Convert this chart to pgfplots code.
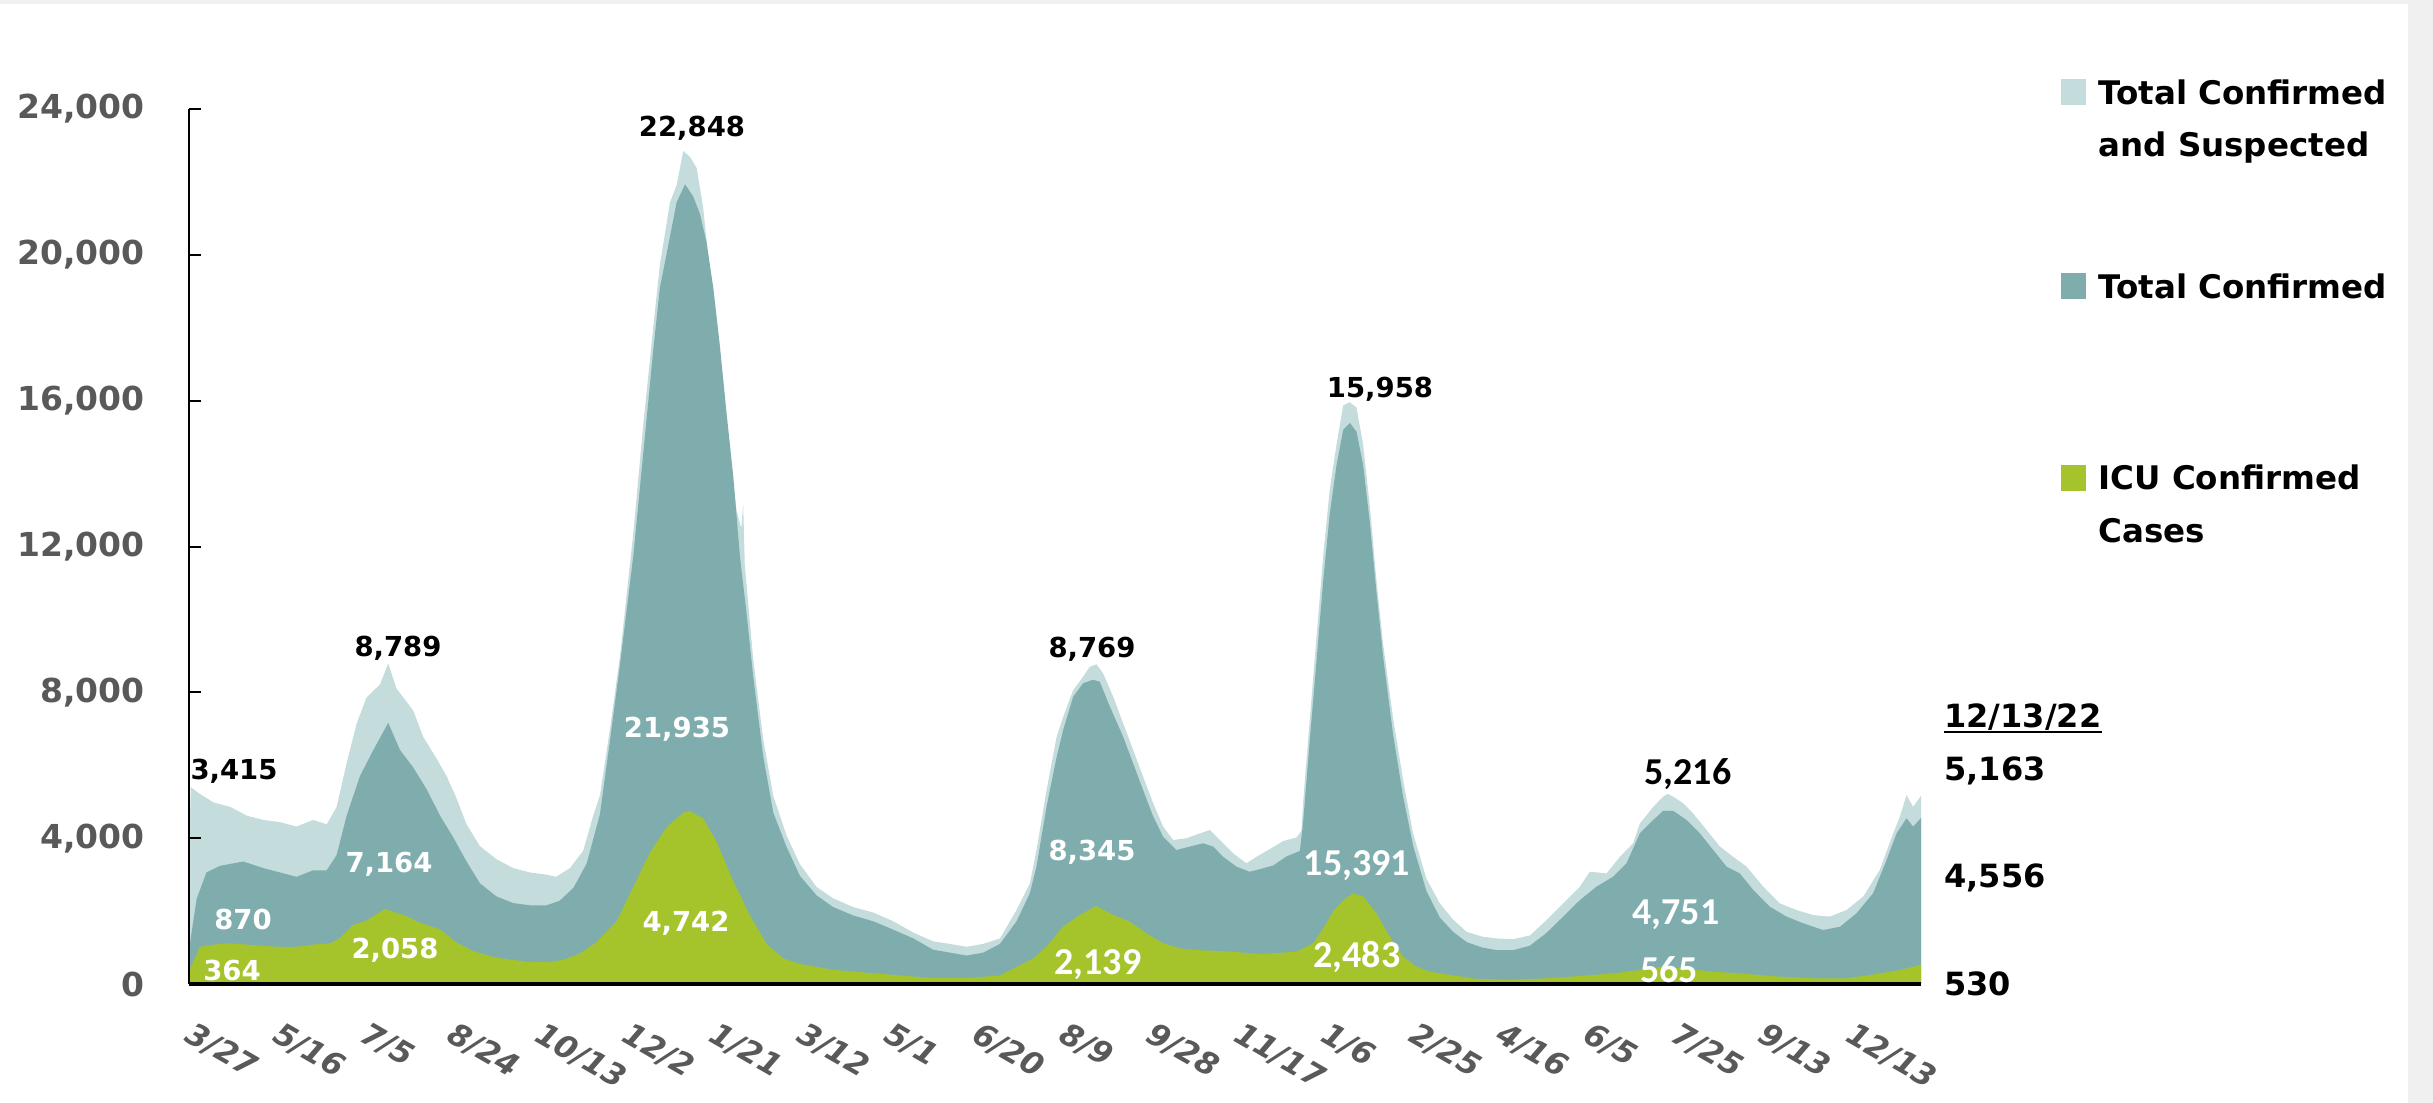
\documentclass[border=0pt]{standalone}
\usepackage{pgfplots}
\pgfplotsset{compat=1.18}
\usepackage{fontspec}
\setmainfont{DejaVu Sans}
\newfontfamily\calib{Carlito}
\definecolor{lightc}{HTML}{C5DCDC}
\definecolor{tealc}{HTML}{7FADAE}
\definecolor{greenc}{HTML}{A5C42B}
\definecolor{tickgray}{HTML}{595959}
\definecolor{bggray}{HTML}{F0F0F0}
\begin{document}
\begin{tikzpicture}
\begin{scope}[x=0.5pt,y=-0.5pt]
\path[use as bounding box] (0,0) rectangle (2433,1103);
\fill[bggray] (0,0) rectangle (2433,4);
\fill[bggray] (2408,0) rectangle (2433,1103);
\end{scope}
\begin{axis}[at={(94.5pt,-492pt)}, anchor=south west, scale only axis,
  width=866pt, height=437.5pt,
  xmin=0, xmax=991, ymin=0, ymax=24000,
  axis on top,
  scaled y ticks=false,
  axis x line=bottom, axis y line=left,
  x axis line style={-, line width=2pt, black},
  y axis line style={-, line width=1pt, black},
  xtick={0,50,...,950},
  xticklabels={3/27,5/16,7/5,8/24,10/13,12/2,1/21,3/12,5/1,6/20,8/9,9/28,11/17,1/6,2/25,4/16,6/5,7/25,9/13,12/13},
  major x tick style={draw=none},
  ytick={0,4000,...,24000},
  yticklabels={0,{4,000},{8,000},{12,000},{16,000},{20,000},{24,000}},
  tick align=inside,
  major tick length=6pt,
  y tick style={line width=1pt, black},
  yticklabel style={font=\fontsize{16.5}{18}\selectfont\bfseries, text=tickgray, anchor=east, inner sep=0pt, xshift=-22pt},
  xticklabel style={font=\fontsize{15.5}{17}\selectfont\bfseries\itshape, text=tickgray, xshift=3pt, yshift=-18pt, rotate=-30, anchor=north west, inner sep=0pt},
]
% Total Confirmed and Suspected
\addplot[fill=lightc, draw=none] coordinates {
(0,3415)(1,5400)(6,5220)(14,4980)(23.5,4860)(33,4620)(42.5,4500)(52,4440)(61.6,4320)(71,4500)(78.8,4380)(84.5,4860)(90.2,6060)(95.9,7140)(101.6,7860)(109.3,8220)(114,8789)(118.8,8100)(124.5,7740)(128.3,7500)(134,6780)(141.7,6180)(147.4,5700)(153,5100)(158.8,4380)(166.5,3780)(176,3420)(185.5,3180)(195,3060)(204.6,3000)(210,2940)(218,3180)(225.6,3660)(231.3,4620)(235.1,5165)(241,7040)(246.6,9000)(254.2,12360)(259.9,15340)(265.6,18000)(269.4,19720)(275.2,21440)(279,21910)(282.8,22848)(286.6,22690)(290.5,22380)(294.2,21280)(298,19560)(301.8,18000)(305.7,16120)(309.5,14550)(313.3,12990)(316,12500)(317.1,13150)(318,11500)(319,10955)(322.8,8920)(328.5,6730)(334.3,5165)(341.9,4070)(349.5,3290)(359.1,2660)(368.6,2350)(380,2110)(391.5,1960)(403,1720)(414.4,1410)(425.8,1170)(435.4,1100)(444.9,1020)(454.4,1100)(464,1250)(473.5,2030)(481.1,2760)(484.9,3675)(490.6,5300)(496.4,6780)(500.2,7330)(505.9,8060)(511.6,8430)(515.4,8700)(519.2,8769)(523,8520)(528.8,7880)(534.5,7150)(540.2,6420)(545.9,5690)(551.7,4955)(557.4,4315)(563.1,3950)(570.7,4000)(578.4,4130)(584.1,4225)(589.8,3950)(597.4,3585)(605,3310)(610.8,3490)(618.4,3700)(626,3920)(633.7,4020)(636.5,4200)(637.5,5020)(641.3,7270)(645.1,9520)(649,11770)(652.7,13570)(656.6,14800)(660.4,15870)(664.2,15958)(668,15810)(671.8,14800)(675.6,13120)(679.4,11090)(683.3,9300)(689,7270)(694.7,5590)(700.4,4125)(708,2890)(715.7,2210)(723.3,1765)(731,1430)(740,1300)(748.1,1250)(757.7,1230)(767.2,1330)(776.7,1750)(786.3,2210)(795.8,2670)(801.5,3080)(811.1,3035)(818.7,3490)(826.3,3860)(830.1,4400)(837.8,4860)(843.5,5140)(846,5216)(849.2,5140)(855,4955)(860.6,4680)(868.3,4225)(875.9,3770)(883.5,3490)(891.2,3220)(900.7,2670)(910.2,2210)(919.8,2030)(929.3,1890)(938.9,1850)(948.4,2030)(957.9,2395)(967.4,3130)(975.1,4130)(978.9,4590)(982.7,5180)(986.5,4860)(991,5163)
} \closedcycle;
% Total Confirmed
\addplot[fill=tealc, draw=none] coordinates {
(0,870)(1,1260)(4.4,2340)(10,3060)(17.7,3240)(31,3360)(42.5,3180)(52,3060)(61.6,2940)(71,3120)(78.8,3120)(84.5,3540)(90.2,4620)(97.8,5700)(105.5,6420)(114,7164)(120.7,6420)(128.3,5940)(136,5340)(143.6,4620)(151.2,4020)(158.8,3360)(166.5,2760)(176,2400)(185.5,2220)(195,2160)(204.6,2160)(212,2280)(220,2640)(227.5,3300)(235.1,4650)(241,6730)(246.6,8760)(254.2,11740)(259.9,14550)(265.6,17370)(269.4,19090)(275.2,20500)(279,21440)(283.8,21935)(288.5,21600)(292.3,21130)(296.1,20350)(300,19090)(303.7,17530)(307.6,15650)(311.4,13930)(315.2,11740)(319,10170)(322.8,8450)(328.5,6260)(334.3,4700)(341.9,3760)(349.5,2970)(359.1,2430)(368.6,2110)(380,1880)(391.5,1720)(403,1490)(414.4,1250)(425.8,940)(435.4,860)(444.9,780)(454.4,860)(464,1100)(473.5,1720)(481.1,2490)(484.9,3220)(490.6,4850)(496.4,6220)(500.2,6970)(505.9,7880)(511.6,8250)(517.3,8345)(521.1,8290)(526.9,7610)(534.5,6780)(540.2,6050)(545.9,5320)(551.7,4590)(557.4,4040)(565,3675)(572.6,3770)(580.3,3860)(586,3770)(591.7,3490)(599.3,3220)(606.9,3080)(612.7,3150)(620.3,3250)(628,3500)(635.6,3650)(637.5,4460)(641.3,6710)(645.1,8850)(649,11090)(652.7,12900)(656.6,14240)(660.4,15200)(664.2,15391)(668,15150)(671.8,14240)(675.6,12670)(679.4,10760)(683.3,8960)(689,6820)(694.7,5140)(700.4,3790)(708,2550)(715.7,1820)(723.3,1430)(731,1150)(740,1000)(748.1,930)(757.7,930)(767.2,1050)(776.7,1400)(786.3,1850)(795.8,2300)(805.3,2670)(814.9,2945)(822.5,3310)(830.1,4130)(837.8,4500)(843.5,4751)(849.2,4751)(856.8,4500)(864.5,4130)(872.1,3675)(879.7,3220)(887.3,3035)(895,2580)(904.5,2120)(914,1850)(923.6,1665)(935,1480)(944.6,1570)(954.1,1940)(963.6,2490)(971.3,3400)(977,4130)(982.7,4545)(986.5,4315)(991,4556)
} \closedcycle;
% ICU Confirmed
\addplot[fill=greenc, draw=none] coordinates {
(0,364)(0.6,420)(6.3,1020)(13.9,1080)(23.5,1116)(33,1080)(42.5,1044)(52,1020)(61.6,1020)(71,1080)(80.7,1116)(86.4,1260)(94,1620)(101.6,1740)(112,2058)(124.5,1860)(132,1680)(143.6,1500)(153,1140)(162.6,900)(176,720)(185.5,660)(195,600)(204.6,600)(214,660)(223.7,840)(233,1140)(244.7,1720)(254.2,2660)(263.7,3600)(273.3,4300)(282.8,4700)(286.6,4742)(294.2,4540)(301.8,3910)(311.4,2820)(320.9,1880)(330.5,1100)(340,700)(349.5,550)(368.6,390)(387.7,310)(406.8,235)(425.8,160)(444.9,160)(464,235)(473.5,470)(483,700)(490.6,1024)(500.2,1573)(509.7,1893)(519.2,2139)(528.8,1893)(538.3,1710)(547.8,1390)(557.4,1115)(566.9,980)(576.5,930)(595.5,890)(614.6,820)(633.7,890)(643.2,1115)(650,1600)(654.7,1990)(660.4,2300)(666.1,2483)(671.8,2400)(679.4,1940)(687,1300)(694.7,750)(702.3,475)(710,340)(721.4,250)(736.7,140)(757.7,120)(776.7,155)(795.8,220)(814.9,290)(830.1,385)(843.5,480)(849.2,450)(872.1,340)(891.2,275)(910.2,200)(929.3,155)(948.4,155)(957.9,220)(967.4,290)(978.9,385)(991,530)
} \closedcycle;
\end{axis}
\begin{scope}[x=0.5pt,y=-0.5pt]
% data labels (Verdana-like)
\begin{scope}[every node/.style={anchor=base, inner sep=0pt, font=\fontsize{13.75}{15}\selectfont\bfseries}]
\node at (234,779) {3,415};
\node at (398,656) {8,789};
\node[text=white] at (389,872) {7,164};
\node[text=white] at (243,929) {870};
\node[text=white] at (395,958) {2,058};
\node[text=white] at (232,980) {364};
\node at (692,136) {22,848};
\node[text=white] at (677,737) {21,935};
\node[text=white] at (686,931) {4,742};
\node at (1092,657) {8,769};
\node[text=white] at (1092,860) {8,345};
\node at (1380,397) {15,958};
\end{scope}
% data labels (Calibri-like)
\begin{scope}[every node/.style={anchor=base, inner sep=0pt, font=\calib\fontsize{19}{21}\selectfont\bfseries}]
\node[text=white] at (1098,974) {2,139};
\node[text=white] at (1357,875) {15,391};
\node[text=white] at (1357,967) {2,483};
\node at (1688,784) {5,216};
\node[text=white] at (1676,924) {4,751};
\node[text=white] at (1669,982) {565};
\end{scope}
% latest values
\begin{scope}[every node/.style={anchor=base west, inner sep=0pt, font=\fontsize{16}{18}\selectfont\bfseries}]
\node (d) at (1944,727) {12/13/22};
\node at (1944,780) {5,163};
\node at (1944,887) {4,556};
\node at (1944,995) {530};
\end{scope}
\draw[line width=1pt] ([yshift=-2.5pt]d.base west) -- ([yshift=-2.5pt]d.base east);
% legend
\fill[lightc] (2061,79) rectangle (2086,105);
\fill[tealc] (2061,273) rectangle (2086,299);
\fill[greenc] (2061,465) rectangle (2086,491);
\begin{scope}[every node/.style={anchor=base west, inner sep=0pt, font=\fontsize{16.25}{18}\selectfont\bfseries}]
\node at (2098,104) {Total Confirmed};
\node at (2098,156) {and Suspected};
\node at (2098,298) {Total Confirmed};
\node at (2098,489) {ICU Confirmed};
\node at (2098,542) {Cases};
\end{scope}
\end{scope}
\end{tikzpicture}
\end{document}
